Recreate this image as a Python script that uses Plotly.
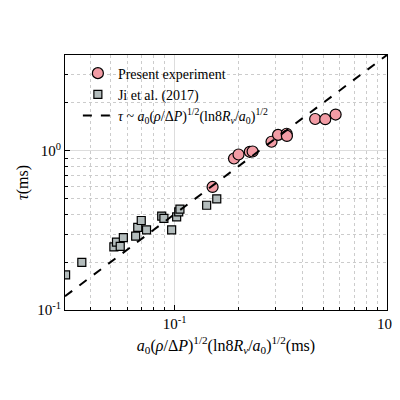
import numpy as np
import plotly.graph_objects as go

# Present experiment
exp_x = [0.151, 0.1905, 0.200, 0.226, 0.233, 0.286, 0.307, 0.337, 0.338, 0.459, 0.512, 0.573]
exp_y = [0.593, 0.895, 0.948, 0.986, 0.99, 1.14, 1.26, 1.28, 1.24, 1.585, 1.58, 1.69]

# Ji et al. (2017)
ji_x = [0.0307, 0.0366, 0.0518, 0.0533, 0.0555, 0.0574, 0.0656, 0.0671, 0.0697, 0.0738,
        0.0870, 0.0891, 0.0969, 0.1023, 0.1046, 0.106, 0.1416, 0.158]
ji_y = [0.166, 0.199, 0.249, 0.267, 0.251, 0.285, 0.291, 0.330, 0.365, 0.319,
        0.389, 0.376, 0.319, 0.385, 0.414, 0.43, 0.455, 0.499]

# scaling law tau = k * x
fit_k = 4.0
fit_x = [0.0305, 1.0]
fit_y = [fit_k * v for v in fit_x]

major_ticks = [0.1, 1]
major_text = ["10<sup>-1</sup>", "10<sup>0</sup>"]
x_minor = [0.04, 0.05, 0.06, 0.07, 0.08, 0.09, 0.2, 0.3, 0.4, 0.5, 0.6, 0.7, 0.8, 0.9]
y_minor = [0.2, 0.3, 0.4, 0.5, 0.6, 0.7, 0.8, 0.9, 2, 3, 4]

font = "Liberation Serif, DejaVu Serif, serif"

fig = go.Figure()
fig.add_trace(go.Scatter(x=exp_x, y=exp_y, mode="markers", name="Present experiment",
                         marker=dict(symbol="circle", size=11, color="#f29ca5",
                                     line=dict(color="black", width=1.2))))
fig.add_trace(go.Scatter(x=ji_x, y=ji_y, mode="markers", name="Ji et al. (2017)",
                         marker=dict(symbol="square", size=8, color="#b3bcbc",
                                     line=dict(color="black", width=1.2))))
fig.add_trace(go.Scatter(x=fit_x, y=fit_y, mode="lines",
                         name="<i>τ</i> ~ <i>a</i><sub>0</sub>(<i>ρ</i>/Δ<i>P</i>)<sup>1/2</sup>(ln8<i>R<sub>v</sub></i>/<i>a</i><sub>0</sub>)<sup>1/2</sup>",
                         line=dict(color="black", width=2, dash="dash")))

axis_common = dict(type="log", showline=True, linecolor="black", linewidth=1, mirror=True,
                   ticks="inside", ticklen=5, tickcolor="black",
                   gridcolor="#dddddd", gridwidth=1,
                   tickvals=major_ticks, ticktext=major_text,
                   tickfont=dict(size=15, family=font, color="black"),
                   zeroline=False)

fig.update_xaxes(**axis_common, range=[np.log10(0.0305), 0],
                 minor=dict(tickvals=x_minor, ticks="inside", ticklen=3, tickcolor="black",
                            showgrid=True, gridcolor="#cccccc", griddash="dot"),
                 title=dict(text="<i>a</i><sub>0</sub>(<i>ρ</i>/Δ<i>P</i>)<sup>1/2</sup>(ln8<i>R<sub>v</sub></i>/<i>a</i><sub>0</sub>)<sup>1/2</sup>(ms)",
                            font=dict(size=16, family=font, color="black"), standoff=8))
fig.update_yaxes(**axis_common, range=[-1, np.log10(4)],
                 minor=dict(tickvals=y_minor, ticks="inside", ticklen=3, tickcolor="black",
                            showgrid=True, gridcolor="#cccccc", griddash="dot"),
                 title=dict(text="<i>τ</i>(ms)", font=dict(size=16, family=font, color="black"), standoff=4))

fig.update_layout(width=400, height=400, plot_bgcolor="white", paper_bgcolor="white",
                  margin=dict(l=57, r=11, t=47, b=98),
                  font=dict(family=font, color="black"),
                  legend=dict(x=0.04, y=0.99, xanchor="left", yanchor="top",
                              bgcolor="rgba(255,255,255,0)", font=dict(size=14, family=font),
                              tracegroupgap=0, itemwidth=30))
fig.write_html("out.html")
